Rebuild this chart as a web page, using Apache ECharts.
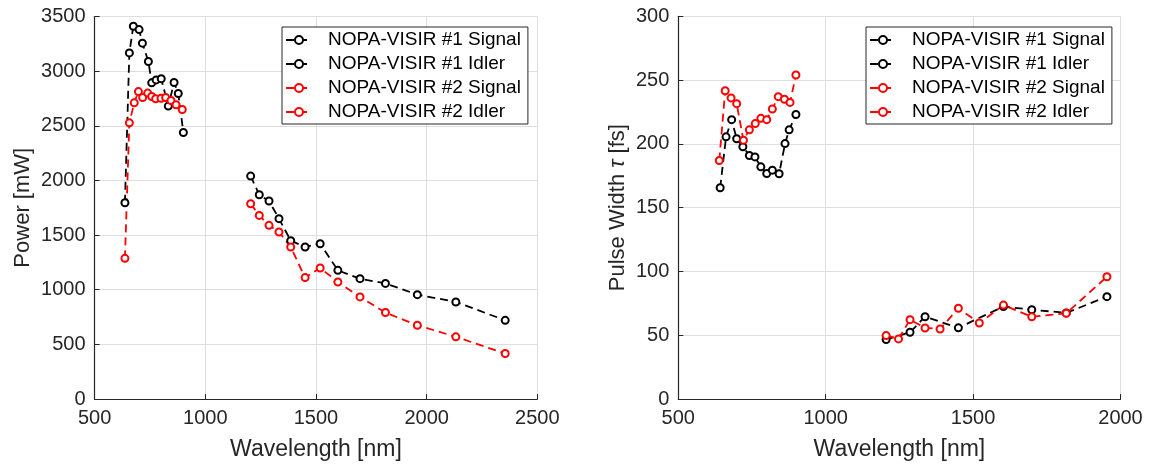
<!DOCTYPE html>
<html>
<head>
<meta charset="utf-8">
<script src="https://cdn.jsdelivr.net/npm/echarts@6/dist/echarts.min.js"></script>
<style>
  html, body { margin: 0; padding: 0; background: #fff; }
  #main { width: 1151px; height: 466px; }
</style>
</head>
<body>
<div id="main"></div>
<script>
// 左图：功率 Power [mW]
var powSig1Wl = [637, 657, 675, 701, 716, 743, 758, 778, 801, 833, 859, 878, 901]
var powSig1 = [1796, 3167, 3411, 3380, 3256, 3088, 2893, 2920, 2930, 2680, 2896, 2795, 2439]
var powSig2Wl = [637, 657, 679, 698, 717, 740, 758, 776, 800, 821, 845, 868, 896]
var powSig2 = [1287, 2527, 2710, 2813, 2759, 2799, 2768, 2747, 2751, 2759, 2731, 2692, 2649]
var powIdlWl = [1205, 1244, 1288, 1333, 1386, 1451, 1519, 1599, 1699, 1814, 1958, 2132, 2355]
var powIdl1 = [2040, 1869, 1812, 1650, 1449, 1391, 1421, 1177, 1101, 1058, 955, 888, 720]
var powIdl2 = [1787, 1680, 1589, 1528, 1391, 1111, 1199, 1071, 934, 791, 675, 569, 416]

// 右图：脉宽 Pulse Width [fs]
var pwSig1Wl = [642, 662, 681, 698, 719, 741, 760, 780, 800, 819, 842, 862, 876, 899]
var pwSig1 = [165.6, 205.5, 219, 204, 197.7, 190.9, 189.8, 182, 176.8, 179.4, 176.6, 200.2, 211, 223]
var pwSig2Wl = [639, 659, 679, 698, 721, 741, 761, 780, 800, 819, 839, 860, 879, 899]
var pwSig2 = [187, 241.6, 236, 231.5, 202.8, 211, 215.9, 220, 219, 227.3, 237, 235, 232.5, 254]
var pwIdl1Wl = [1205, 1286, 1337, 1450, 1603, 1699, 1816, 1954]
var pwIdl1 = [46.6, 52.3, 64.5, 55.8, 72.5, 70, 67.5, 80.2]
var pwIdl2Wl = [1205, 1247, 1286, 1337, 1388, 1450, 1521, 1603, 1699, 1816, 1954]
var pwIdl2 = [49.7, 47.1, 62.2, 55.7, 54.9, 71.1, 59.6, 73.6, 64.5, 67.2, 95.8]

var legendNames = ['NOPA-VISIR #1 Signal', 'NOPA-VISIR #1 Idler', 'NOPA-VISIR #2 Signal', 'NOPA-VISIR #2 Idler']

var FONT = '"Liberation Sans", Arial, Helvetica, sans-serif'
var TXT = '#262626'
var GRID = '#dedede'

function zip(xs, ys) {
  var out = []
  for (var i = 0; i < xs.length; i++) {
    out.push([xs[i], ys[i]])
  }
  return out
}

function plain(v) {
  return String(v) // 不要千位分隔符
}

function makeSeries(name, color, idx, xs, ys) {
  return {
    name: name,
    type: 'line',
    xAxisIndex: idx,
    yAxisIndex: idx,
    data: zip(xs, ys),
    symbol: 'emptyCircle',
    symbolSize: 7,
    showAllSymbol: true,
    lineStyle: { color: color, width: 1.8, type: [8, 5] },
    itemStyle: { color: color, borderColor: color, borderWidth: 1.5 },
    emphasis: { disabled: true },
  }
}

function makeXAxis(idx, max) {
  return {
    type: 'value',
    gridIndex: idx,
    min: 500,
    max: max,
    interval: 500,
    name: 'Wavelength [nm]',
    nameLocation: 'middle',
    nameGap: 39,
    nameTextStyle: { color: TXT, fontSize: 23, fontFamily: FONT },
    axisLine: { show: true, onZero: false, lineStyle: { color: TXT, width: 1.2 } },
    axisTick: { show: true, inside: true, length: 5, lineStyle: { color: TXT } },
    axisLabel: { color: TXT, fontSize: 20, fontFamily: FONT, margin: 9, formatter: plain },
    splitLine: { show: true, lineStyle: { color: GRID, width: 1 } },
  }
}

function makeYAxis(idx, max, interval, name, gap) {
  return {
    type: 'value',
    gridIndex: idx,
    min: 0,
    max: max,
    interval: interval,
    name: name,
    nameLocation: 'middle',
    nameGap: gap,
    nameTextStyle: {
      color: TXT,
      fontSize: 22,
      fontFamily: FONT,
      rich: { i: { fontStyle: 'italic', fontSize: 22, fontFamily: FONT, color: TXT } },
    },
    axisLine: { show: true, onZero: false, lineStyle: { color: TXT, width: 1.2 } },
    axisTick: { show: true, inside: true, length: 5, lineStyle: { color: TXT } },
    axisLabel: { color: TXT, fontSize: 20, fontFamily: FONT, margin: 9, formatter: plain },
    splitLine: { show: true, lineStyle: { color: GRID, width: 1 } },
  }
}

function makeLegend(left) {
  return {
    orient: 'vertical',
    left: left,
    top: 27,
    data: legendNames,
    backgroundColor: '#fff',
    borderColor: TXT,
    borderWidth: 1,
    padding: [3, 7, 2, 3],
    itemWidth: 26,
    itemHeight: 10,
    itemGap: 4,
    selectedMode: false,
    textStyle: {
      color: '#000',
      fontSize: 19,
      fontFamily: FONT,
      lineHeight: 20,
      padding: [0, 0, 0, 11],
    },
  }
}

var chart = echarts.init(document.getElementById('main'))
var option = {
  animation: false,
  backgroundColor: '#fff',
  grid: [
    { left: 94.6, top: 16.5, width: 442.7, height: 384 },
    { left: 678.3, top: 16.3, width: 442.2, height: 384 },
  ],
  legend: [makeLegend(282), makeLegend(866)],
  xAxis: [makeXAxis(0, 2500), makeXAxis(1, 2000)],
  yAxis: [
    makeYAxis(0, 3500, 500, 'Power [mW]', 61),
    makeYAxis(1, 300, 50, 'Pulse Width {i|τ} [fs]', 49),
  ],
  series: [
    makeSeries(legendNames[0], '#000000', 0, powSig1Wl, powSig1),
    makeSeries(legendNames[1], '#000000', 0, powIdlWl, powIdl1),
    makeSeries(legendNames[2], '#ff0000', 0, powSig2Wl, powSig2),
    makeSeries(legendNames[3], '#ff0000', 0, powIdlWl, powIdl2),
    makeSeries(legendNames[0], '#000000', 1, pwSig1Wl, pwSig1),
    makeSeries(legendNames[1], '#000000', 1, pwIdl1Wl, pwIdl1),
    makeSeries(legendNames[2], '#ff0000', 1, pwSig2Wl, pwSig2),
    makeSeries(legendNames[3], '#ff0000', 1, pwIdl2Wl, pwIdl2),
  ],
}
chart.setOption(option)
</script>
</body>
</html>
